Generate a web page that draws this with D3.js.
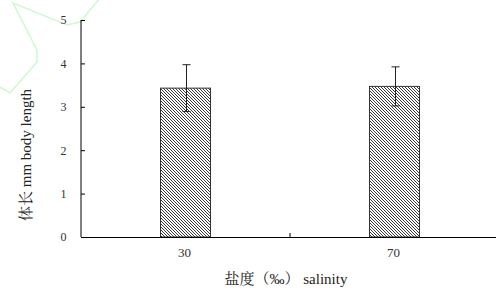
<!DOCTYPE html>
<html><head><meta charset="utf-8">
<script src="https://cdn.jsdelivr.net/npm/d3@7"></script>
<style>body{margin:0;background:#fff}svg{display:block}</style>
</head><body>
<script>
const categories = ["30", "70"];
const means = [3.43, 3.47];
const errors = [0.54, 0.45];
const yTicks = [0, 1, 2, 3, 4, 5];
const xTitle = "盐度（‰） salinity";
const yTitle = "体长 mm  body length";

const W = 496, H = 291;
const FONT = '"Liberation Serif","Noto Serif CJK SC","Noto Sans CJK SC",serif';
const svg = d3.select("body").append("svg").attr("width", W).attr("height", H);

// faint watermark
svg.append("path")
  .attr("d", "M100,-2 L80,22 L67,25 L13,3 L37,50 L37,62 L10,93 L0,87")
  .attr("fill", "none").attr("stroke", "#d2f7d5").attr("stroke-width", 1.6);

const defs = svg.append("defs");
const pat = defs.append("pattern").attr("id", "hatch").attr("patternUnits", "userSpaceOnUse")
  .attr("width", 3).attr("height", 3);
pat.append("rect").attr("width", 3).attr("height", 3).attr("fill", "#fff");
pat.append("path").attr("d", "M-1,-1 L4,4 M-1,2 L1,4 M2,-1 L4,1")
  .attr("stroke", "#3a3a3a").attr("stroke-width", 1);

const x = d3.scaleBand().domain(categories).range([81, 499]);
const y = d3.scaleLinear().domain([0, 5]).range([237, 20]);

// y axis
const yAxis = d3.axisRight(y).tickValues(yTicks).tickSize(4).tickFormat(d3.format("d"));
const gy = svg.append("g").attr("transform", "translate(81,0)").call(yAxis);
gy.select(".domain").attr("stroke", "#000").attr("d", "M0," + y(5) + "V" + y(0));
gy.selectAll(".tick line").attr("stroke", "#000");
gy.selectAll(".tick text").attr("x", -17.5).attr("text-anchor", "middle")
  .style("font-family", FONT).style("font-size", "12px").attr("fill", "#333");

// bars
const bw = 50;
svg.selectAll("rect.bar").data(categories).enter().append("rect")
  .attr("class", "bar")
  .attr("x", d => x(d) + x.bandwidth() / 2 - bw / 2)
  .attr("y", (d, i) => y(means[i]))
  .attr("width", bw)
  .attr("height", (d, i) => y(0) - y(means[i]))
  .attr("fill", "url(#hatch)").attr("stroke", "#333").attr("stroke-width", 1);

// error bars
const cap = 4;
categories.forEach((c, i) => {
  const cx = Math.round(x(c) + x.bandwidth() / 2) + 0.5;
  const g = svg.append("g").attr("stroke", "#222").attr("stroke-width", 1);
  g.append("line").attr("x1", cx).attr("x2", cx).attr("y1", y(means[i] + errors[i])).attr("y2", y(means[i] - errors[i]));
  g.append("line").attr("x1", cx - cap).attr("x2", cx + cap).attr("y1", y(means[i] + errors[i])).attr("y2", y(means[i] + errors[i]));
  g.append("line").attr("x1", cx - cap).attr("x2", cx + cap).attr("y1", y(means[i] - errors[i])).attr("y2", y(means[i] - errors[i]));
});

// x axis
const gx = svg.append("g").attr("transform", "translate(0," + y(0) + ")");
gx.append("line").attr("x1", 81).attr("x2", 499).attr("y1", 0.5).attr("y2", 0.5).attr("stroke", "#000");
categories.slice(1).forEach(c => {
  gx.append("line").attr("x1", x(c)).attr("x2", x(c)).attr("y1", 0).attr("y2", -4).attr("stroke", "#000");
});
gx.selectAll("text").data(categories).enter().append("text")
  .attr("x", d => x(d) + x.bandwidth() / 2 - 1).attr("y", 20)
  .attr("text-anchor", "middle").style("font-family", FONT).style("font-size", "13px").attr("fill", "#333")
  .text(d => d);

// titles
svg.append("text").attr("x", 286).attr("y", 284).attr("text-anchor", "middle")
  .style("font-family", FONT).style("font-size", "15px").attr("fill", "#222").text(xTitle);
svg.append("text").attr("transform", "translate(31,155) rotate(-90)").attr("text-anchor", "middle")
  .style("font-family", FONT).style("font-size", "15px").attr("fill", "#222").text(yTitle);
</script>
</body></html>
